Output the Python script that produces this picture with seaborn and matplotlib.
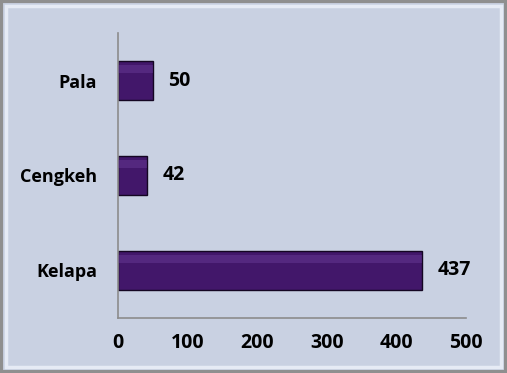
import matplotlib
matplotlib.use("Agg")
import matplotlib.pyplot as plt
import seaborn as sns
import pandas as pd
from matplotlib.patches import Rectangle

# Production figures per commodity
categories = ["Pala", "Cengkeh", "Kelapa"]
values = [50, 42, 437]
x_ticks = [0, 100, 200, 300, 400, 500]

df = pd.DataFrame({"komoditas": categories, "jumlah": values})

sns.set_style("white")
plt.rcParams["font.family"] = ["Open Sans", "DejaVu Sans"]
plt.rcParams["font.weight"] = "bold"
plt.rcParams["text.color"] = "black"
plt.rcParams["xtick.color"] = "black"
plt.rcParams["ytick.color"] = "black"

bg = "#c9d1e2"
fig = plt.figure(figsize=(5.07, 3.73), dpi=100, facecolor=bg)
ax = fig.add_axes([0.2327, 0.1475, 0.9191 - 0.2327, 0.9115 - 0.1475])
ax.set_facecolor(bg)

sns.barplot(data=df, x="jumlah", y="komoditas", order=categories,
            color="#42176a", saturation=1, width=0.42,
            edgecolor="#140622", linewidth=1.0, ax=ax)

# soft highlight strip on each bar for a bevelled look
for p in ax.patches:
    x0, y0 = p.get_x(), p.get_y()
    w, h = p.get_width(), p.get_height()
    ax.add_patch(Rectangle((x0, y0 + h * 0.1), w, h * 0.2,
                           facecolor="#8a5cc0", alpha=0.25, lw=0, zorder=3))

ax.bar_label(ax.containers[0], labels=[str(v) for v in values], padding=11,
             fontsize=14, fontweight="bold", color="black")

ax.set_xlim(0, 500)
ax.set_ylim(2.5, -0.5)
ax.set_xticks(x_ticks)
ax.set_xticklabels([str(t) for t in x_ticks], fontsize=14, fontweight="bold")
ax.set_yticks(range(len(categories)))
ax.set_yticklabels(categories, fontsize=13, fontweight="bold")
ax.tick_params(axis="y", length=0, pad=15, labelcolor="black")
ax.tick_params(axis="x", length=5, width=1, color="#8c8c8c", pad=6, labelcolor="black")
ax.set_yticks([-0.5, 0.5, 1.5, 2.5], minor=True)
ax.tick_params(axis="y", which="minor", length=5, width=1, color="#8c8c8c")
ax.set_xlabel("")
ax.set_ylabel("")

for side in ["top", "right"]:
    ax.spines[side].set_visible(False)
for side in ["left", "bottom"]:
    ax.spines[side].set_color("#8c8c8c")
    ax.spines[side].set_linewidth(1.2)

# framed border around the chart area
fig.patches.append(Rectangle((0.002, 0.003), 0.996, 0.994, transform=fig.transFigure,
                             fill=False, edgecolor="#8f8f8f", linewidth=3))
fig.patches.append(Rectangle((0.012, 0.016), 0.976, 0.968, transform=fig.transFigure,
                             fill=False, edgecolor="#e6ebf5", linewidth=2.5))

fig.savefig("out.png", dpi=100, facecolor=bg)
